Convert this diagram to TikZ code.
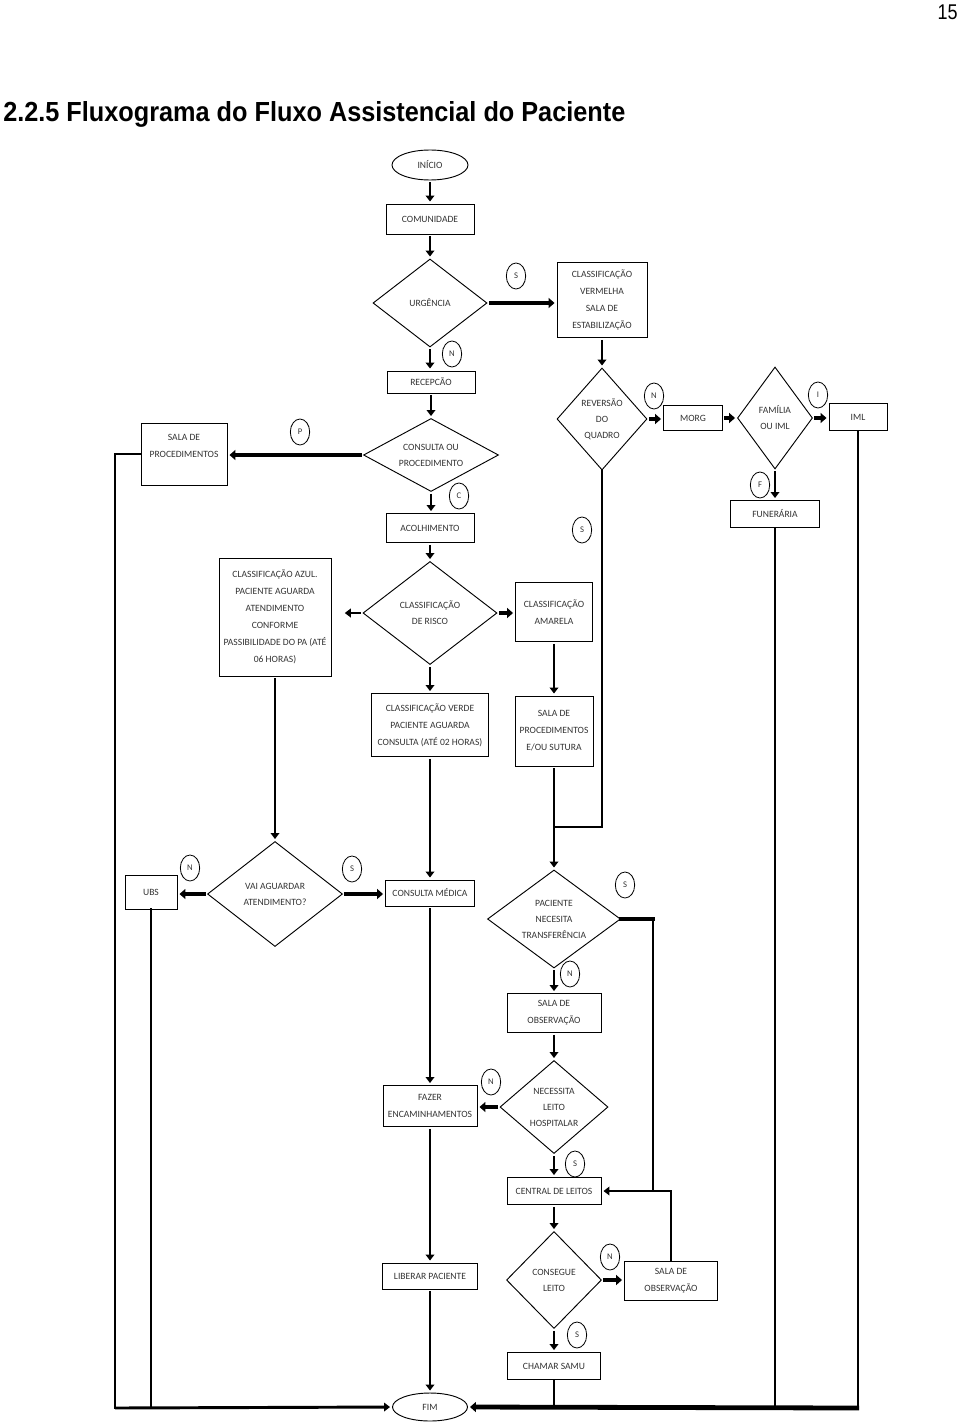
\documentclass[tikz,border=0pt]{standalone}
\usepackage{fontspec}
\setmainfont{Carlito}
\newfontfamily\titlefont{Liberation Sans}
\usetikzlibrary{shapes.geometric,arrows.meta}
\begin{document}
\begin{tikzpicture}[x=0.75pt,y=-0.75pt,
  sz/.style 2 args={minimum width=#1*0.75pt, minimum height=#2*0.75pt},
  box/.style={draw, line width=0.7pt, rectangle, inner sep=1pt, align=center,
    font=\fontsize{7.2}{12.75}\selectfont, text=black!80},
  dia/.style={draw, line width=0.7pt, diamond, inner sep=0pt, align=center,
    font=\fontsize{7.2}{12}\selectfont, text=black!80},
  oval/.style={draw, line width=0.7pt, ellipse, inner sep=0pt,
    font=\fontsize{7.2}{12}\selectfont, text=black!80},
  lbl/.style={draw, line width=0.6pt, ellipse, inner sep=0pt, minimum width=14.5pt,
    minimum height=19.5pt, font=\fontsize{6.5}{7}\selectfont, text=black!80},
  arr/.style={line width=2.2pt, -{Triangle[length=4.5pt,width=6.5pt]}, shorten >=1.5pt, shorten <=1.5pt},
  tarr/.style={line width=3.6pt, -{Triangle[length=4.5pt,width=7.5pt]}, shorten >=1.5pt, shorten <=1pt},
  ln/.style={line width=2.2pt, line cap=rect},
  tln/.style={line width=3.6pt, line cap=rect}
]
\useasboundingbox (0,0) rectangle (960,1423);

% title and page number
\node[anchor=base west, inner sep=0] (title) at (3,122)
  {\resizebox{466.5pt}{15pt}{\titlefont\bfseries 2.2.5 Fluxograma do Fluxo Assistencial do Paciente}};
\node[anchor=base east, inner sep=0] (page) at (958,20)
  {\resizebox{15pt}{11pt}{\titlefont 15}};

% nodes
\node[oval, sz={76}{30}] (inicio) at (430,165) {INÍCIO};
\node[box, sz={88}{30}] (comun) at (430,219) {COMUNIDADE};
\node[dia, sz={114}{88}, aspect=1.3] (urg) at (430,303) {URGÊNCIA};
\node[box, sz={90}{75}] (verm) at (602,300) {CLASSIFICAÇÃO\\VERMELHA\\SALA DE\\ESTABILIZAÇÃO};
\node[box, sz={88}{22}] (recep) at (431,382) {RECEPCÃO};
\node[dia, sz={135}{73}, aspect=1.85] (cons) at (431,455) {CONSULTA OU\\PROCEDIMENTO};
\node[box, sz={86}{62}] (sproc) at (184,454) {SALA DE\\PROCEDIMENTOS\\~};
\node[box, sz={88}{29}] (acolh) at (430,528) {ACOLHIMENTO};
\node[dia, sz={134}{103}, aspect=1.3] (risco) at (430,613) {CLASSIFICAÇÃO\\DE RISCO};
\node[box, sz={112}{118}] (azul) at (275,617) {CLASSIFICAÇÃO AZUL.\\PACIENTE AGUARDA\\ATENDIMENTO\\CONFORME\\PASSIBILIDADE DO PA (ATÉ\\06 HORAS)};
\node[box, sz={77}{59}] (amar) at (554,612) {CLASSIFICAÇÃO\\AMARELA};
\node[box, sz={117}{63}] (verde) at (430,725) {CLASSIFICAÇÃO VERDE\\PACIENTE AGUARDA\\CONSULTA (ATÉ 02 HORAS)};
\node[box, sz={78}{70}] (sut) at (554,731) {SALA DE\\PROCEDIMENTOS\\E/OU SUTURA};
\node[dia, sz={90}{102}, aspect=0.88] (rev) at (602,419) {REVERSÃO\\DO\\QUADRO};
\node[box, sz={59}{25}] (morg) at (693,418) {MORG};
\node[dia, sz={75}{102}, aspect=0.74] (fam) at (775,418) {FAMÍLIA\\OU IML};
\node[box, sz={58}{27}] (iml) at (858,417) {IML};
\node[box, sz={89}{27}] (fun) at (775,514) {FUNERÁRIA};
\node[dia, sz={135}{105}, aspect=1.29] (vai) at (275,894) {VAI AGUARDAR\\ATENDIMENTO?};
\node[box, sz={52}{34}] (ubs) at (151,892) {UBS};
\node[box, sz={89}{26}] (cmed) at (430,893) {CONSULTA MÉDICA};
\node[dia, sz={133}{98}, aspect=1.36] (transf) at (554,919) {PACIENTE\\NECESITA\\TRANSFERÊNCIA};
\node[box, sz={94}{39}] (obs1) at (554,1013) {SALA DE\\OBSERVAÇÃO};
\node[dia, sz={108}{93}, aspect=1.16] (leito) at (554,1107) {NECESSITA\\LEITO\\HOSPITALAR};
\node[box, sz={94}{41}] (fazer) at (430,1106) {FAZER\\ENCAMINHAMENTOS};
\node[box, sz={94}{27}] (central) at (554,1191) {CENTRAL DE LEITOS};
\node[dia, sz={95}{97}, aspect=1] (conseg) at (554,1280) {CONSEGUE\\LEITO};
\node[box, sz={93}{39}] (obs2) at (671,1281) {SALA DE\\OBSERVAÇÃO};
\node[box, sz={93}{27}] (samu) at (554,1366) {CHAMAR SAMU};
\node[box, sz={95}{26}] (lib) at (430,1276) {LIBERAR PACIENTE};
\node[oval, sz={75}{28}] (fim) at (430,1407) {FIM};

% circle labels
\node[lbl] (l1) at (516,276) {S};
\node[lbl] (l2) at (452,354) {N};
\node[lbl] (l3) at (300,432) {P};
\node[lbl] (l4) at (459,496) {C};
\node[lbl] (l5) at (582,530) {S};
\node[lbl] (l6) at (654,396) {N};
\node[lbl] (l7) at (818,395) {I};
\node[lbl] (l8) at (760,485) {F};
\node[lbl] (l9) at (190,868) {N};
\node[lbl] (l10) at (352,869) {S};
\node[lbl] (l11) at (625,885) {S};
\node[lbl] (l12) at (570,974) {N};
\node[lbl] (l13) at (491,1082) {N};
\node[lbl] (l14) at (575,1164) {S};
\node[lbl] (l15) at (610,1257) {N};
\node[lbl] (l16) at (577,1335) {S};

% connectors
\draw[arr] (inicio) -- (comun);
\draw[arr] (comun) -- (urg);
\draw[tarr] (urg.east) -- (urg.east -| verm.west);
\draw[arr] (verm) -- (rev);
\draw[arr] (urg.south) -- (urg.south |- recep.north);
\draw[arr] (recep) -- (cons);
\draw[tarr] (cons.west) -- (cons.west -| sproc.east);
\draw[arr] (cons.south) -- (cons.south |- acolh.north);
\draw[arr] (acolh) -- (risco);
\draw[arr, shorten >=10pt] (risco.west) -- (risco.west -| azul.east);
\draw[tarr] (risco.east) -- (risco.east -| amar.west);
\draw[arr] (risco) -- (verde);
\draw[arr] (amar) -- (sut);
\draw[tarr] (rev.east) -- (rev.east -| morg.west);
\draw[tarr] (morg.east) -- (morg.east -| fam.west);
\draw[tarr] (fam.east) -- (fam.east -| iml.west);
\draw[arr] (fam) -- (fun);

% left bus
\coordinate (lb) at (115,1408);
\draw[ln] (sproc.west) -| (lb);
\draw[arr, shorten <=0pt] (lb) -- (fim.west);
\draw[ln] (ubs.south) -- (ubs.south |- lb);

\draw[arr] (azul) -- (vai);
\draw[arr] (verde) -- (cmed);
\draw[tarr] (vai.west) -- (vai.west -| ubs.east);
\draw[tarr] (vai.east) -- (vai.east -| cmed.west);

% reversao yes branch joins sutura line
\coordinate (rj) at (554,827);
\draw[ln] (rev.south) |- (rj);
\draw[arr] (sut) -- (transf);

% transfer yes branch
\coordinate (tj) at (653,1191);
\draw[tln] (transf.east) -- (transf.east -| tj);
\draw[ln] (transf.east -| tj) -- (tj);
\draw[arr, shorten <=0pt] (obs2.north) |- (central.east);

\draw[arr] (transf) -- (obs1);
\draw[arr] (obs1) -- (leito);
\draw[tarr] (leito.west) -- (leito.west -| fazer.east);
\draw[arr] (leito) -- (central);
\draw[arr] (cmed) -- (fazer);
\draw[arr] (fazer) -- (lib);
\draw[arr] (lib) -- (fim);
\draw[arr] (central) -- (conseg);
\draw[tarr] (conseg.east) -- (conseg.east -| obs2.west);
\draw[arr] (conseg) -- (samu);

% right bus
\coordinate (rb) at (859,1408);
\draw[ln] (iml.south) -- (iml.south |- rb);
\draw[tarr, shorten <=0pt] (rb) -- (fim.east);
\draw[ln] (fun.south) -- (fun.south |- rb);
\draw[ln] (samu.south) -- (samu.south |- rb);
\end{tikzpicture}
\end{document}
